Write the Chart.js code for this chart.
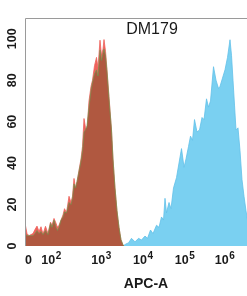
<!DOCTYPE html>
<html>
<head>
<meta charset="utf-8">
<script src="https://cdn.jsdelivr.net/npm/chart.js@4.4.0/dist/chart.umd.min.js"></script>
<style>
  html, body { margin: 0; padding: 0; background: #fff; overflow: hidden; }
  #wrap { position: relative; width: 268px; height: 296px; }
</style>
</head>
<body>
<div id="wrap"><canvas id="histo"></canvas></div>
<script>
const sampleName = "DM179";
const axisName = "APC-A";

// control histograms, x = channel along the biexponential APC axis
const ctrlChannels = [0, 2, 4, 6, 8, 10, 12, 14, 16, 18, 20.5, 23, 25.5, 27, 29, 31, 32.5, 34, 36, 38,
  39.5, 41.5, 44, 46, 47.5, 49, 50.5, 52, 54, 56, 57.5, 59, 60.5, 62, 64, 66, 67.5, 69.5, 71.5, 73,
  75, 76.5, 78, 79, 80.5, 82, 84, 86.5, 88, 90, 92, 94, 96, 98, 99];
const negCounts = [11, 6, 5, 5.5, 6, 8, 9.6, 7, 9.3, 5.8, 9.5, 6, 11.5, 10, 13.3, 11, 9, 10, 12.5, 15,
  18, 16, 24, 21, 24, 32.6, 28, 31, 36.6, 42, 48, 61.5, 57, 56, 70, 77, 80, 87, 91, 86,
  99.3, 92, 95, 99.6, 94, 85, 72, 56, 42, 28, 17, 9, 3, 0.5, 0];
const isoCounts = [6, 5, 5, 5, 5, 6, 7.5, 6, 7, 5.5, 7.5, 5.5, 11, 9, 12.5, 9, 7.5, 9, 12.5, 14,
  16.5, 16, 21, 20, 23, 30, 28, 31, 36, 41, 46, 55, 56, 58, 67, 75, 79, 83, 85, 82,
  94.5, 89.5, 93, 95, 92, 84, 71, 56, 42, 28, 17, 9, 3, 0.5, 0];

// stained sample
const posChannels = [98, 101, 103.5, 106.5, 110, 113.5, 116.5, 120, 122.5, 125.5, 128, 131.5, 134, 136.5,
  138.5, 140, 141.5, 144, 146, 148.5, 151.5, 154, 156.5, 159, 161, 163.5, 165.5, 167.5, 169.5, 172,
  174.5, 177, 179, 181.5, 183.5, 185.5, 188.5, 191, 193.5, 195, 197.5, 200, 202.5, 205, 206.5, 208,
  209.5, 211, 213, 215, 217, 219, 221, 223, 226, 229, 232];
const posCounts = [0, 1, 1.5, 3.7, 2, 3.7, 2.9, 4.8, 3.7, 7.7, 6, 10, 9, 14,
  12.5, 23, 16, 21, 18, 28, 33, 40, 47, 38, 42, 48, 53, 51, 61, 55,
  56, 62, 61, 71, 67, 70, 86.5, 80, 76, 77, 81, 85, 91, 99.5, 92, 80,
  68, 56, 57, 46, 32, 24, 17, 11, 6, 2, 0];

const xTickChannels = [3.5, 23.3, 73.3, 115, 156.7, 196.7];
const xTickBase = ["0", "10", "10", "10", "10", "10"];
const xTickExp = ["", "2", "3", "4", "5", "6"];
const yTicks = [0, 20, 40, 60, 80, 100];

const ctx = document.getElementById("histo").getContext("2d");

function toPoints(xs, ys) {
  return xs.map((x, i) => ({ x: x, y: ys[i] }));
}

const frameAndLabels = {
  id: "frameAndLabels",
  afterDraw(chart) {
    const c = chart.ctx;
    const a = chart.chartArea;
    const xs = chart.scales.x;
    const ys = chart.scales.y;
    c.save();
    // frame
    c.strokeStyle = "#9a9a9a";
    c.lineWidth = 1;
    c.beginPath();
    c.moveTo(a.left + 0.5, a.bottom);
    c.lineTo(a.left + 0.5, a.top + 0.5);
    c.lineTo(a.right - 0.5, a.top + 0.5);
    c.lineTo(a.right - 0.5, a.bottom);
    c.stroke();

    c.fillStyle = "#1a1a1a";
    c.textAlign = "center";
    c.textBaseline = "middle";

    // sample name inside the plot
    c.font = '16px "Liberation Sans", Arial, sans-serif';
    c.fillText(sampleName, a.left + 127, a.top + 12);

    // y tick labels, rotated
    c.font = 'bold 12.5px "Liberation Sans", Arial, sans-serif';
    yTicks.forEach(v => {
      c.save();
      c.translate(13, ys.getPixelForValue(v));
      c.rotate(-Math.PI / 2);
      c.fillText(String(v), 0, 0);
      c.restore();
    });

    // x tick labels with exponents
    xTickChannels.forEach((v, i) => {
      const px = xs.getPixelForValue(v);
      c.font = 'bold 12.5px "Liberation Sans", Arial, sans-serif';
      c.textAlign = "center";
      c.fillText(xTickBase[i], px, a.bottom + 15);
      if (xTickExp[i]) {
        const w = c.measureText(xTickBase[i]).width;
        c.font = 'bold 10px "Liberation Sans", Arial, sans-serif';
        c.textAlign = "left";
        c.fillText(xTickExp[i], px + w / 2 + 0.5, a.bottom + 10.5);
      }
    });

    // axis title
    c.textAlign = "center";
    c.font = 'bold 14px "Liberation Sans", Arial, sans-serif';
    c.fillText(axisName, (a.left + a.right) / 2, a.bottom + 38);
    c.restore();
  }
};

// dataset 0 is painted last, so the isotype sits over the red negative control
new Chart(ctx, {
  type: "line",
  data: {
    datasets: [
      {
        label: "Isotype control",
        data: toPoints(ctrlChannels, isoCounts),
        fill: "origin",
        backgroundColor: "rgb(176, 88, 64)",
        borderColor: "rgba(90, 165, 80, 0.8)",
        borderWidth: 0.7,
        pointRadius: 0,
        tension: 0
      },
      {
        label: "Negative control",
        data: toPoints(ctrlChannels, negCounts),
        fill: "origin",
        backgroundColor: "rgb(238, 98, 92)",
        borderColor: "rgb(238, 98, 92)",
        borderWidth: 0.8,
        pointRadius: 0,
        tension: 0
      },
      {
        label: sampleName,
        data: toPoints(posChannels, posCounts),
        fill: "origin",
        backgroundColor: "rgb(122, 208, 241)",
        borderColor: "rgb(98, 192, 232)",
        borderWidth: 0.8,
        pointRadius: 0,
        tension: 0
      }
    ]
  },
  options: {
    responsive: true,
    maintainAspectRatio: false,
    animation: false,
    layout: { padding: { top: 18, right: 1, left: 0, bottom: 0 } },
    plugins: {
      legend: { display: false },
      tooltip: { enabled: false }
    },
    scales: {
      x: {
        type: "linear",
        min: 0,
        max: 242,
        grid: { display: false },
        border: { display: false },
        ticks: { display: false },
        afterBuildTicks(s) { s.ticks = xTickChannels.map(v => ({ value: v })); },
        afterFit(s) { s.height = 50; }
      },
      y: {
        min: 0,
        max: 110,
        grid: { display: false },
        border: { display: false },
        ticks: { display: false },
        afterBuildTicks(s) { s.ticks = yTicks.map(v => ({ value: v })); },
        afterFit(s) { s.width = 25; }
      }
    }
  },
  plugins: [frameAndLabels]
});
</script>
</body>
</html>
